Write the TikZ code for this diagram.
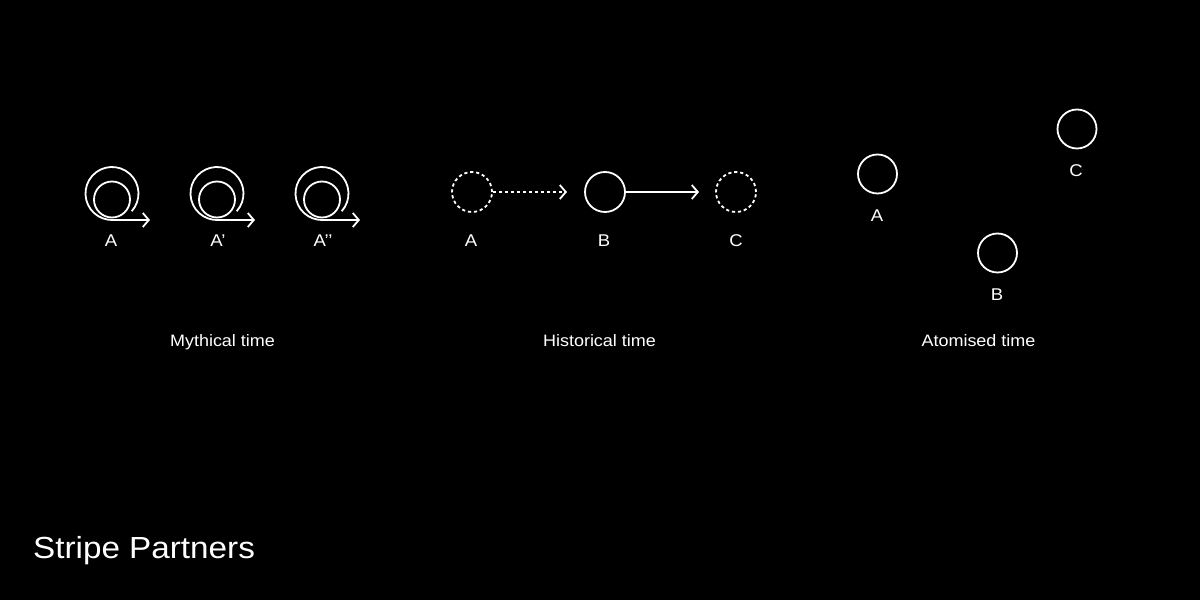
\documentclass[tikz,border=0pt]{standalone}
\usepackage{fontspec}
\setmainfont[FakeStretch=1.09]{Liberation Sans}
\usetikzlibrary{arrows.meta,calc}
\begin{document}
\begin{tikzpicture}[x=1pt,y=1pt,
  line/.style={draw=white,line width=1.8pt},
  ring/.style={circle,draw=white,line width=1.8pt,minimum size=#1,inner sep=0pt},
  dring/.style={ring=#1,dash pattern=on 3.2pt off 2.8pt},
  arr/.style={line,-{Straight Barb[length=6pt,width=14pt,line width=1.8pt]}},
  lbl/.style={text=white,font=\fontsize{17}{20}\selectfont,inner sep=0pt},
  ttl/.style={text=white,font=\fontsize{16.5}{20}\selectfont,inner sep=0pt,anchor=base},
  cycle/.pic={
    \node[ring=36pt] (-in) at (0,-6) {};
    \coordinate (-c) at (0,0);
    \draw[arr] ($(-c)+(-42:26.5)$) arc[start angle=-42,end angle=270,radius=26.5] -- ++(38,0) coordinate (-tip);
  }]
\fill[black] (0,0) rectangle (1200,600);
\useasboundingbox (0,0) rectangle (1200,600);

% Mythical time
\pic (m1) at (112,406.5) {cycle};
\pic (m2) at (217,406.5) {cycle};
\pic (m3) at (322,406.5) {cycle};
\node[lbl] (lm1) at (111,359.5) {A};
\node[lbl] (lm2) at (218,359.5) {A’};
\node[lbl] (lm3) at (323,359.5) {A’’};
\node[ttl] (tm) at (222.5,253) {Mythical time};

% Historical time
\node[dring=40pt] (hA) at (472,408) {};
\node[ring=40pt] (hB) at (605,408) {};
\node[dring=40pt] (hC) at (736,408) {};
\coordinate (hAt) at (567,408);
\coordinate (hBt) at (699,408);
\draw[arr,dash pattern=on 3.2pt off 2.8pt] (hA.east) -- (hAt);
\draw[arr] (hB.east) -- (hBt);
\node[lbl] (lhA) at (471,359.5) {A};
\node[lbl] (lhB) at (604,359.5) {B};
\node[lbl] (lhC) at (736,359.5) {C};
\node[ttl] (th) at (599.5,253) {Historical time};

% Atomised time
\node[ring=39pt] (aA) at (877.5,426) {};
\node[ring=39pt] (aB) at (997.5,347) {};
\node[ring=39pt] (aC) at (1077,471) {};
\node[lbl] (laA) at (877,384) {A};
\node[lbl] (laB) at (997,305) {B};
\node[lbl] (laC) at (1076,429) {C};
\node[ttl] (ta) at (978.5,253) {Atomised time};

% Logo
\node[text=white,font=\fontsize{30.5}{36}\selectfont,inner sep=0pt,anchor=base west] (logo) at (33,41) {Stripe Partners};
\end{tikzpicture}
\end{document}
